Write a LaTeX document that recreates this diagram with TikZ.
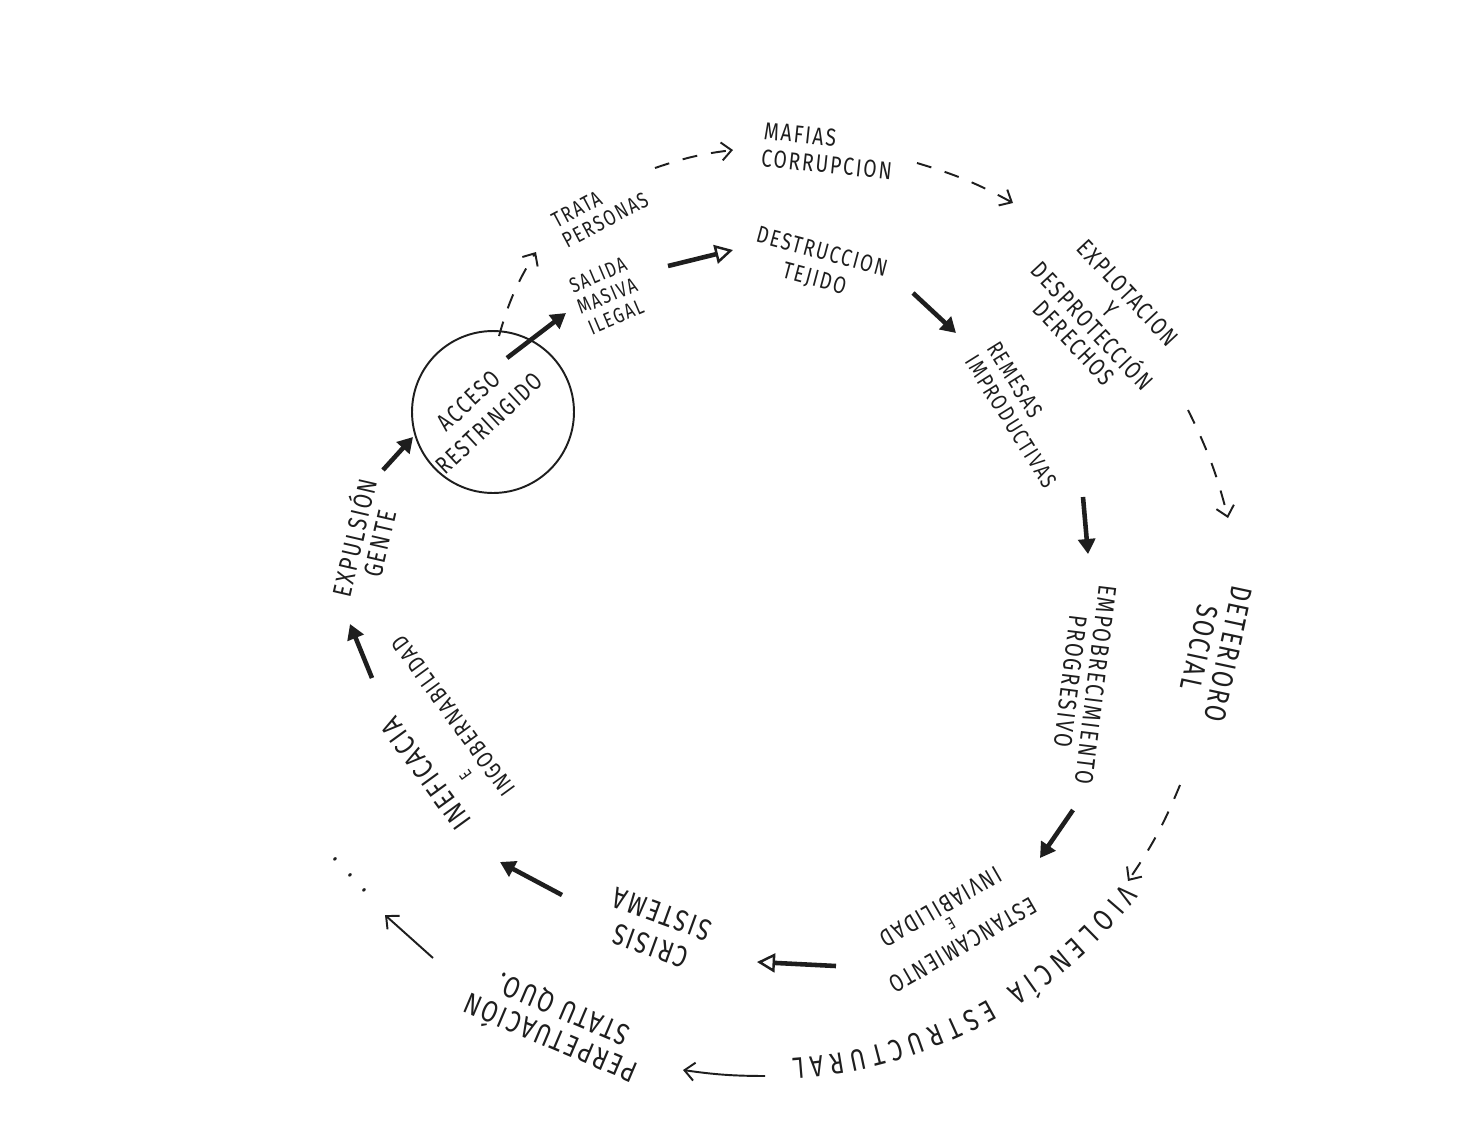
\documentclass[tikz,border=0pt]{standalone}
\usepackage{fontspec}
\setmainfont{Fira Sans}[FakeStretch=0.78, LetterSpace=8]
\usetikzlibrary{arrows.meta, decorations.text}
\definecolor{ink}{HTML}{1E1E1E}
\newcommand{\fsz}[2]{\fontsize{#1}{#2}\selectfont}
\begin{document}
\begin{tikzpicture}[x=0.02cm, y=-0.02cm,
  lbl/.style={inner sep=0pt, align=center, text=ink},
  ring/.style={draw=ink, line width=1.1pt, circle, minimum size=3.24cm, inner sep=0pt},
  heavy/.style={draw=ink, line width=2.6pt, -{Triangle[length=0.3cm,width=0.34cm]}},
  heavyopen/.style={draw=ink, line width=2.6pt, -{Triangle[open,length=0.36cm,width=0.38cm,line width=1.4pt]}},
  dasharrow/.style={draw=ink, line width=1.1pt, dash pattern=on 0.3cm off 0.28cm, -{Straight Barb[length=0.2cm,width=0.36cm]}},
  thinarrow/.style={draw=ink, line width=1.1pt, -{Straight Barb[length=0.2cm,width=0.36cm]}}]
\useasboundingbox (0,0) rectangle (1475,1144);
\fill[white] (0,0) rectangle (1475,1144);

% ---------- inner cycle ----------
\node[ring] (accring) at (493,412) {};
\node[lbl, rotate=43, font=\fsz{14}{17.5}] (acc) at (479,412) {ACCESO\\RESTRINGIDO};
\node[lbl, rotate=23, font=\fsz{12}{13}] (sal) at (607,296) {SALIDA\\MASIVA\\ILEGAL};
\node[lbl, rotate=-15, font=\fsz{13.5}{16}] (des) at (818,266) {DESTRUCCION\\TEJIDO};
\node[lbl, rotate=-58, align=left, font=\fsz{13}{14.5}] (rem) at (1022,415) {REMESAS\\IMPRODUCTIVAS};
\node[lbl, rotate=-97, font=\fsz{14.5}{14.5}] (emp) at (1083,683) {EMPOBRECIMIENTO\\PROGRESIVO};
\node[lbl, rotate=210, font=\fsz{14}{12.5}] (est) at (952,926) {ESTANCAMIENTO\\{\fsz{10}{10}E}\\INVIABILIDAD};
\node[lbl, rotate=160, font=\fsz{17}{19}] (cri) at (656,930) {CRISIS\\SISTEMA};
\node[lbl, rotate=126, align=left, font=\fsz{13.5}{15.5}] (ine) at (430,733) {{\fsz{16.5}{16.5}INEFICACIA}\\\hspace*{0.75cm}{\fsz{10}{10}E}\\INGOBERNABILIDAD};
\node[lbl, rotate=77, font=\fsz{15}{14.5}] (exp) at (365,540) {EXPULSIÓN\\GENTE};

% ---------- outer cycle ----------
\node[lbl, rotate=28, align=left, font=\fsz{12.5}{13}] (tra) at (600,210) {TRATA\\PERSONAS};
\node[lbl, rotate=-6, align=left, font=\fsz{14}{15.5}] (maf) at (828,151) {MAFIAS\\CORRUPCION};
\node[lbl, rotate=-47, font=\fsz{14}{14}] (xpl) at (1101,318) {EXPLOTACION\\Y\\DESPROTECCIÓN\\DERECHOS};
\node[lbl, rotate=-102, font=\fsz{17}{17}] (det) at (1214,651) {DETERIORO\\SOCIAL};
\path[decorate, decoration={text along path, text={|\color{ink}\fsz{17}{17}|VIOLENCÍA ESTRUCTURAL}, text align={fit to path}}]
  (760,600) ++(-38:9.2cm) arc[start angle=-38, end angle=-86, radius=9.2cm];
\node[lbl, rotate=157, font=\fsz{17}{17.5}] (per) at (556,1025) {PERPETUACIÓN\\STATU QUO.};
\node[lbl, rotate=-48, font=\fsz{16}{16}] (dots) at (350,875) {.\hspace{9pt}.\hspace{9pt}.};

% ---------- connector end points ----------
\coordinate (h1a) at (383,470);  \coordinate (h1b) at (413,437);
\coordinate (h2a) at (507,358);  \coordinate (h2b) at (566,313);
\coordinate (h3a) at (668,266);  \coordinate (h3b) at (733,250);
\coordinate (h4a) at (913,293);  \coordinate (h4b) at (956,333);
\coordinate (h5a) at (1083,497); \coordinate (h5b) at (1088,554);
\coordinate (h6a) at (1073,810); \coordinate (h6b) at (1040,858);
\coordinate (h7a) at (836,966);  \coordinate (h7b) at (757,962);
\coordinate (h8a) at (562,895);  \coordinate (h8b) at (500,862);
\coordinate (h9a) at (372,678);  \coordinate (h9b) at (350,624);

\coordinate (d1a) at (499,336);  \coordinate (d1b) at (536,252);
\coordinate (d2a) at (655,168);  \coordinate (d2b) at (733,150);
\coordinate (d3a) at (917,163);  \coordinate (d3b) at (1013,203);
\coordinate (d4a) at (1188,410); \coordinate (d4b) at (1228,518);
\coordinate (d5a) at (1180,785); \coordinate (d5b) at (1128,881);
\coordinate (t1a) at (765,1076); \coordinate (t1b) at (683,1070);
\coordinate (t2a) at (433,958);  \coordinate (t2b) at (385,915);

% ---------- heavy arrows (inner cycle) ----------
\draw[heavy] (h1a) -- (h1b);
\draw[heavy] (h2a) -- (h2b);
\draw[heavyopen] (h3a) -- (h3b);
\draw[heavy] (h4a) -- (h4b);
\draw[heavy] (h5a) -- (h5b);
\draw[heavy] (h6a) -- (h6b);
\draw[heavyopen] (h7a) -- (h7b);
\draw[heavy] (h8a) -- (h8b);
\draw[heavy] (h9a) -- (h9b);

% ---------- dashed / thin arrows (outer cycle) ----------
\draw[dasharrow] (d1a) to[bend left=8] (d1b);
\draw[dasharrow] (d2a) to[bend left=6] (d2b);
\draw[dasharrow] (d3a) to[bend left=6] (d3b);
\draw[dasharrow] (d4a) to[bend left=6] (d4b);
\draw[dasharrow] (d5a) to[bend left=6] (d5b);
\draw[thinarrow] (t1a) to[bend left=4] (t1b);
\draw[thinarrow] (t2a) -- (t2b);
\end{tikzpicture}
\end{document}
